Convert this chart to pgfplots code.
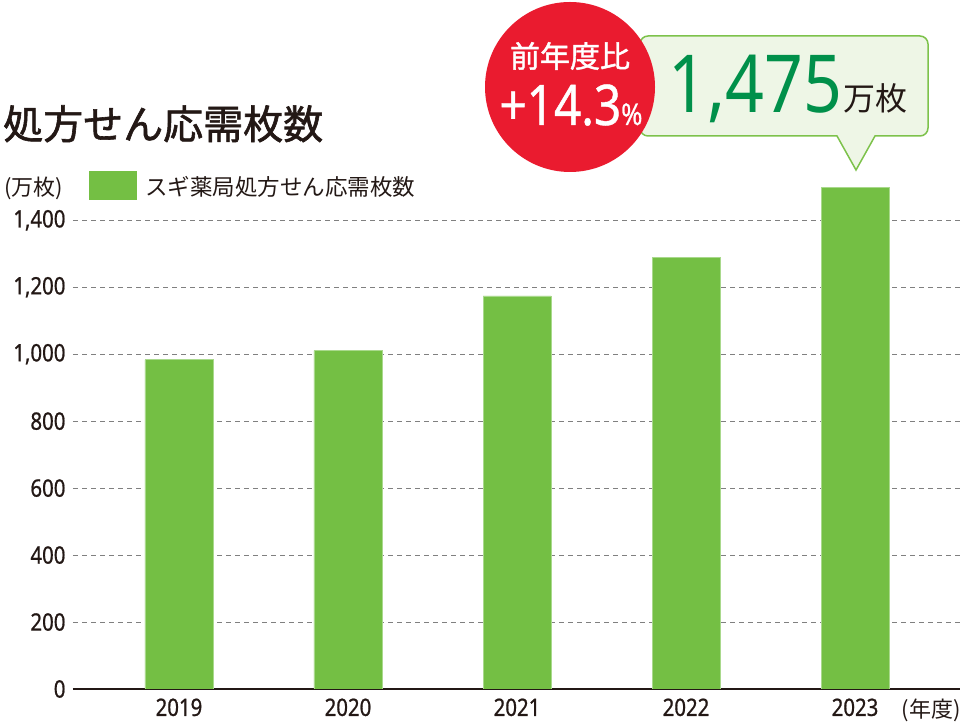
\documentclass[border=0pt]{standalone}
\usepackage{fontspec}
\usepackage{pgfplots}
\pgfplotsset{compat=1.18}
\setmainfont{Noto Sans}[FakeStretch=0.85]
\newfontfamily\num{Noto Sans}[FakeStretch=0.85, FakeBold=0.8]
\newfontfamily\jp{Noto Sans CJK JP}
\newfontfamily\jpm{Noto Sans CJK JP}[FakeBold=1.5]
\definecolor{barGreen}{HTML}{74BF44}
\definecolor{barEdge}{HTML}{A9D98C}
\definecolor{calloutGreen}{HTML}{7DC24B}
\definecolor{calloutFill}{HTML}{EEF6E6}
\definecolor{darkGreen}{HTML}{00904A}
\definecolor{badgeRed}{HTML}{EA1B2F}
\definecolor{gridgray}{HTML}{808080}
\definecolor{ink}{HTML}{231815}

\begin{document}
\begin{tikzpicture}
\path[use as bounding box] (0,0) rectangle (963pt,722pt);
\begin{axis}[
  at={(73pt,33pt)}, anchor=south west,
  scale only axis, width=887pt, height=502.2pt,
  ybar, bar width=68pt,
  xmin=-0.627, xmax=4.621, ymin=0, ymax=1500,
  xtick={0,1,2,3,4}, xticklabels={2019,2020,2021,2022,2023},
  ytick={0,200,...,1400},
  axis x line*=bottom, axis y line*=left,
  x axis line style={line width=2.5pt, ink},
  y axis line style={draw=none},
  major tick length=0pt,
  ymajorgrids,
  grid style={gridgray, dash pattern=on 5pt off 4pt, line width=1pt},
  tick label style={font=\num\fontsize{24}{24}\selectfont, text=ink},
  yticklabel style={xshift=-4pt},
  xticklabel style={yshift=-6pt},
  /pgf/number format/assume math mode=true,
  /pgf/number format/1000 sep={,},
  scaled y ticks=false,
]
\addplot[fill=barGreen, draw=barEdge, line width=0.8pt] coordinates {
  (0,983) (1,1011) (2,1174) (3,1288) (4,1497)
};
\end{axis}

\begin{scope}[x=1pt, y=1pt, every node/.style={inner sep=0pt}]
% title and legend
\node[anchor=base west, text=ink, font=\jpm\fontsize{40}{40}\selectfont] at (3,583) {処方せん応需枚数};
\node[anchor=base west, text=ink, font=\jp\fontsize{22}{22}\selectfont] at (4,526) {(万枚)};
\fill[barGreen] (89,522) rectangle (137,551);
\node[anchor=base west, text=ink, font=\jp\fontsize{22.5}{22.5}\selectfont] at (145,526) {スギ薬局処方せん応需枚数};
\node[anchor=base east, text=ink, font=\jp\fontsize{22}{22}\selectfont] at (961,4) {(年度)};
% callout
\draw[calloutGreen, line width=1.5pt, fill=calloutFill, rounded corners=8pt]
  (740,586) [sharp corners] -- (837,586) -- (856,552) -- (875,586)
  [rounded corners=8pt] -- (928,586) -- (928,686) -- (640,686) -- (640,586) -- cycle;
\node[anchor=base west, text=darkGreen, font=\fontsize{80}{80}\selectfont] at (668,609) {1,475};
\node[anchor=base west, text=ink, font=\jp\fontsize{32}{32}\selectfont] at (843,611) {万枚};
% badge
\fill[badgeRed] (570,635) circle (85);
\node[text=white, font=\jpm\fontsize{30}{30}\selectfont] at (570,666) {前年度比};
\node[anchor=base, text=white, font=\num\fontsize{56}{56}\selectfont] at (571,597) {+14.3{\fontsize{30}{30}\selectfont\%}};
\end{scope}
\end{tikzpicture}
\end{document}
